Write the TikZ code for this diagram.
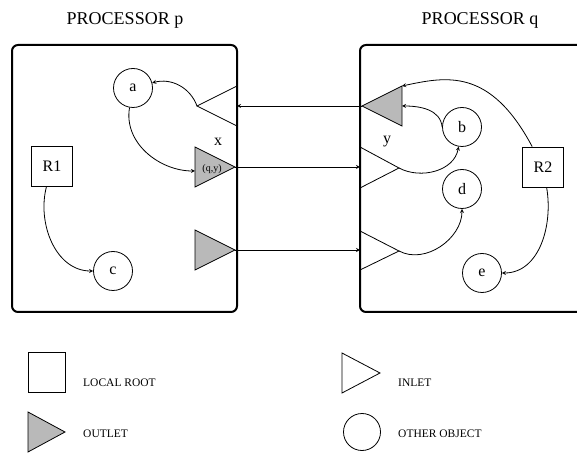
\documentclass[tikz,border=0pt]{standalone}
\usepackage{fontspec}
\setmainfont{Liberation Serif}

\begin{document}
\begin{tikzpicture}[x=1pt, y=1pt, >=stealth,
  proc/.style={draw, line width=2pt, rounded corners=6pt},
  obj/.style={draw, circle, line width=0.8pt, minimum size=39pt, inner sep=0pt, font=\fontsize{16}{16}\selectfont},
  root/.style={draw, line width=0.8pt, minimum width=41pt, minimum height=40pt, inner sep=0pt, font=\fontsize{16}{16}\selectfont},
  link/.style={->, line width=0.8pt},
  port/.style={draw, line width=0.8pt},
  outport/.style={port, fill=gray!55},
  key/.style={anchor=west, inner sep=0pt, font=\fontsize{11.5}{12}\selectfont}]
\useasboundingbox (0,0) rectangle (577,452);

% processors
\draw[proc] (12,407) rectangle (237,140);
\draw[proc] (360,407) rectangle (600,140);
\node[font=\fontsize{18}{20}\selectfont] (titlep) at (125,432) {PROCESSOR p};
\node[font=\fontsize{18}{20}\selectfont] (titleq) at (480,432) {PROCESSOR q};

% processor p
\node[obj] (a) at (133,364) {a};
\node[obj] (c) at (113,181) {c};
\node[root] (R1) at (52,286) {R1};
\draw[port] (237,366) -- (197,346) -- (237,326);
\coordinate (pin) at (197,346);
\coordinate (pinb) at (237,346);
\draw[outport] (195,305) -- (235,285) -- (195,265) -- cycle;
\coordinate (xout) at (235,285);
\coordinate (xleft) at (195,281);
\node[font=\fontsize{16}{16}\selectfont] (xlab) at (218,310) {x};
\node[font=\fontsize{10}{10}\selectfont, inner sep=0pt] (qylab) at (212,283) {(q,y)};
\draw[outport] (195,222) -- (235,202) -- (195,182) -- cycle;
\coordinate (pout) at (235,202);

% processor q
\node[obj] (b) at (462,325) {b};
\node[obj] (d) at (462,263) {d};
\node[obj] (e) at (482,179) {e};
\node[root] (R2) at (543,285) {R2};
\draw[outport] (402,366) -- (362,346) -- (402,326) -- cycle;
\coordinate (qout) at (362,346);
\coordinate (qtop) at (402,366);
\coordinate (qright) at (402,346);
\draw[port] (360,305) -- (399,284) -- (360,264);
\coordinate (yin) at (399,284);
\coordinate (yinb) at (360,285);
\node[font=\fontsize{16}{16}\selectfont] (ylab) at (387,310) {y};
\draw[port] (360,221) -- (399,201) -- (360,182);
\coordinate (qin) at (399,201);
\coordinate (qinb) at (360,202);

% messages between processors
\draw[link] (qout) -- (pinb);
\draw[link] (xout) -- (yinb);
\draw[link] (pout) -- (qinb);

% references inside p
\draw[link] (pin) to[out=110, in=15] (a);
\draw[link] (a) to[out=-100, in=180] (xleft);
\draw[link] (R1) to[out=-105, in=180] (c);

% references inside q
\draw[link] (yin) to[out=-28, in=-100] (b);
\draw[link] (qin) to[out=-28, in=-90] (d);
\draw[link] (b.west) to[out=95, in=0] (qright);
\draw[link] (R2) to[out=118, in=12, out looseness=1.6, in looseness=0.8] (qtop);
\draw[link] (R2) to[out=-80, in=0] (e);

% legend
\node[draw, line width=0.8pt, minimum width=37pt, minimum height=40pt, inner sep=0pt] (keyroot) at (46.5,80) {};
\node[key] (keyroottext) at (83,69) {LOCAL ROOT};
\draw[outport] (28,40) -- (65,20) -- (28,0) -- cycle;
\node[key] (keyouttext) at (83,18) {OUTLET};
\draw[port] (342,99) -- (380,79) -- (342,59) -- cycle;
\node[key] (keyintext) at (398,69) {INLET};
\node[draw, circle, line width=0.8pt, minimum size=37pt, inner sep=0pt] (keyobj) at (362,20) {};
\node[key] (keyobjtext) at (398,18) {OTHER OBJECT};
\end{tikzpicture}
\end{document}
